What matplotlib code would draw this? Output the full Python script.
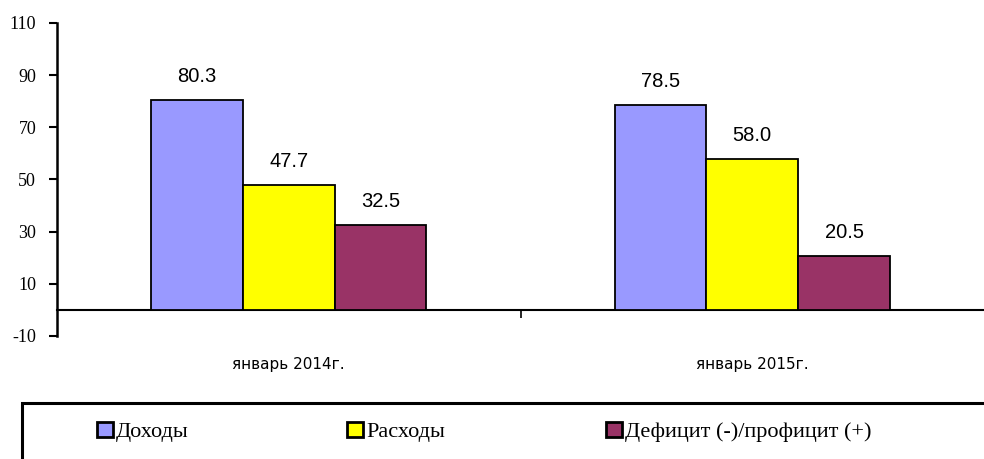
import matplotlib
matplotlib.use("Agg")
import matplotlib.pyplot as plt
from matplotlib.patches import Patch, Rectangle
import numpy as np

categories = ["январь 2014г.", "январь 2015г."]
series_names = ["Доходы", "Расходы", "Дефицит (-)/профицит (+)"]
dohody = [80.3, 78.5]
rashody = [47.7, 58.0]
deficit = [32.5, 20.5]
yticks = [-10, 10, 30, 50, 70, 90, 110]

colors = ["#9999FF", "#FFFF00", "#993366"]
series = [dohody, rashody, deficit]

fig = plt.figure(figsize=(9.84, 4.59), dpi=100)
ax = fig.add_axes([57/984, 1-336/459, 1-57/984, (336-23)/459])

x = np.arange(len(categories))
w = 0.198
for i, (vals, c) in enumerate(zip(series, colors)):
    pos = x + (i-1)*w
    ax.bar(pos, vals, width=w, color=c, edgecolor="black", linewidth=1.3, zorder=3)
    for p, v in zip(pos, vals):
        ax.annotate(f"{v:.1f}", (p, v), xytext=(0, 17), textcoords="offset points",
                    ha="center", va="center", fontsize=14.5, family="Liberation Sans")

ax.set_xlim(-0.5, 1.5)
ax.set_ylim(-10, 110)
ax.set_yticks(yticks)
ax.set_yticklabels([str(t) for t in yticks], family="Liberation Serif", fontsize=13)
ax.tick_params(axis="y", direction="out", length=6, width=1.5, pad=9)

for s in ["top", "right"]:
    ax.spines[s].set_visible(False)
ax.spines["left"].set_linewidth(1.8)
ax.spines["bottom"].set_position(("data", 0))
ax.spines["bottom"].set_linewidth(1.5)
ax.set_xticks([0.5])
ax.set_xticklabels([""])
ax.tick_params(axis="x", direction="out", length=6, width=1.2)

for xi, lab in zip(x, categories):
    ax.text(xi, -(365-336)/313, lab, transform=ax.get_xaxis_transform(),
            ha="center", va="center", fontsize=11, family="Liberation Sans Narrow")

# legend box
fig.patches.append(Rectangle((22/984, -0.05), 1.0, (459-403)/459+0.05,
                             transform=fig.transFigure, fill=False,
                             edgecolor="black", linewidth=2.2))
lx = [97, 347, 606]
for name, c, xx in zip(series_names, colors, lx):
    fig.legend(handles=[Patch(facecolor=c, edgecolor="black", linewidth=2)],
               labels=[name], loc="center left",
               bbox_to_anchor=(xx/984, 1-432/459), frameon=False,
               handlelength=0.7, handleheight=0.7, handletextpad=0.15,
               borderpad=0, borderaxespad=0,
               prop={"family": "Liberation Serif", "size": 16})

fig.savefig("out.png", dpi=100)
